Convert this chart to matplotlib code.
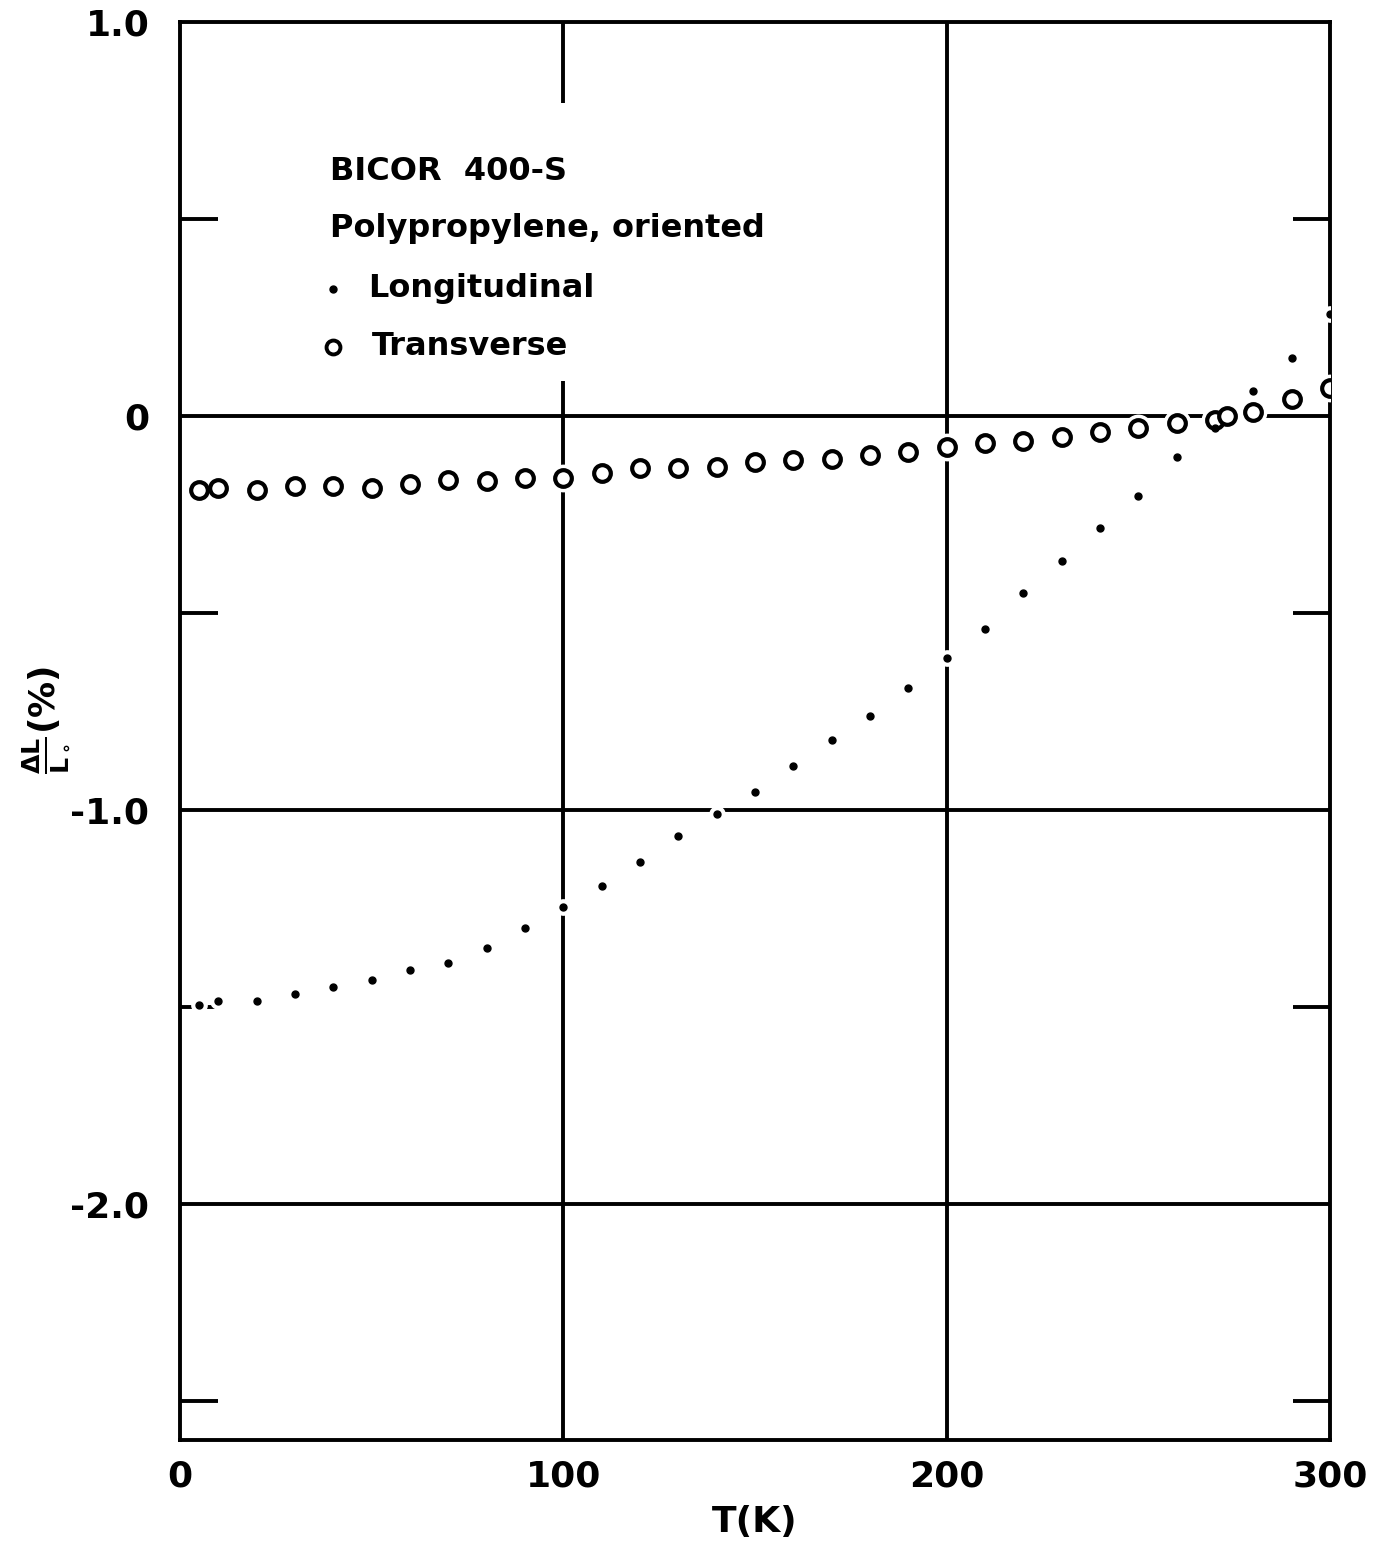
import numpy as np
import matplotlib
matplotlib.use("Agg")
import matplotlib.pyplot as plt
from matplotlib.ticker import FixedLocator

# Thermal expansion of oriented polypropylene film (BICOR 400-S)
temp_long = [5, 10, 20, 30, 40, 50, 60, 70, 80, 90, 100, 110, 120, 130, 140, 150,
             160, 170, 180, 190, 200, 210, 220, 230, 240, 250, 260, 270, 280, 290, 300]
dl_long = [-1.495, -1.486, -1.486, -1.467, -1.451, -1.431, -1.407, -1.388, -1.351,
           -1.299, -1.247, -1.194, -1.133, -1.066, -1.010, -0.954, -0.888, -0.822,
           -0.761, -0.690, -0.614, -0.540, -0.450, -0.368, -0.285, -0.203, -0.105,
           -0.031, 0.063, 0.148, 0.259]

temp_trans = [5, 10, 20, 30, 40, 50, 60, 70, 80, 90, 100, 110, 120, 130, 140, 150,
              160, 170, 180, 190, 200, 210, 220, 230, 240, 250, 260, 270, 273, 280, 290, 300]
dl_trans = [-0.188, -0.184, -0.188, -0.179, -0.179, -0.184, -0.173, -0.162, -0.165,
            -0.158, -0.157, -0.144, -0.133, -0.133, -0.129, -0.116, -0.112, -0.110,
            -0.099, -0.091, -0.078, -0.068, -0.063, -0.053, -0.040, -0.031, -0.019,
            -0.010, 0.0, 0.011, 0.042, 0.070]

x_ticks = [0, 100, 200, 300]
y_ticks = [1.0, 0.0, -1.0, -2.0]
y_ticklabels = ["1.0", "0", "-1.0", "-2.0"]
y_minor = [0.5, -0.5, -1.5, -2.5]

plt.rcParams["font.family"] = "DejaVu Sans"
plt.rcParams["font.weight"] = "bold"
plt.rcParams["axes.labelweight"] = "bold"

fig = plt.figure(figsize=(13.78, 15.49), dpi=100)
ax = fig.add_axes([0.1306, 0.0704, 0.8346, 0.9154])
ax.set_xlim(0, 300)
ax.set_ylim(-2.6, 1.0)

lw = 2.8
for s in ax.spines.values():
    s.set_linewidth(lw)

# grid lines
for y in [0.0, -1.0, -2.0]:
    ax.axhline(y, color="black", lw=lw, zorder=1)
ax.axvline(200, color="black", lw=lw, zorder=1)
# the 100 K line is broken around the caption block
ax.vlines(100, -2.6, 0.089, color="black", lw=lw, zorder=1)
ax.vlines(100, 0.794, 1.0, color="black", lw=lw, zorder=1)

ax.set_xticks(x_ticks)
ax.set_xticklabels([str(t) for t in x_ticks])
ax.set_yticks(y_ticks)
ax.set_yticklabels(y_ticklabels)
ax.yaxis.set_minor_locator(FixedLocator(y_minor))
ax.tick_params(axis="both", which="major", length=0, labelsize=26, width=lw)
ax.tick_params(axis="x", which="major", pad=14)
ax.tick_params(axis="y", which="major", pad=22)
ax.tick_params(axis="y", which="minor", direction="in", length=27, width=lw,
               left=True, right=True)

# white halos so the grid lines break around the points
ax.plot(temp_trans, dl_trans, "o", ms=19, color="white", zorder=3)
ax.plot(temp_long, dl_long, "o", ms=11, color="white", zorder=3)
ax.plot(temp_trans, dl_trans, "o", ms=12, mfc="white", mec="black", mew=3.0, zorder=4)
ax.plot(temp_long, dl_long, "o", ms=5, color="black", zorder=4)

# caption block
fs = 23
ax.text(0.1304, 0.8949, "BICOR  400-S", transform=ax.transAxes, fontsize=fs,
        va="center", ha="left")
ax.text(0.1304, 0.8547, "Polypropylene, oriented", transform=ax.transAxes,
        fontsize=fs, va="center", ha="left")
ax.plot([0.133], [0.8117], "o", ms=5, color="black", transform=ax.transAxes)
ax.text(0.1635, 0.8117, "Longitudinal", transform=ax.transAxes, fontsize=fs,
        va="center", ha="left")
ax.plot([0.133], [0.7708], "o", ms=10, mfc="white", mec="black", mew=2.8,
        transform=ax.transAxes)
ax.text(0.167, 0.7708, "Transverse", transform=ax.transAxes, fontsize=fs,
        va="center", ha="left")

ax.set_xlabel("T(K)", fontsize=26, labelpad=8)
fig.text(0.033, 0.535, r"$\mathbf{\frac{\Delta L}{L_\circ}}$(%)", rotation=90,
         fontsize=26, ha="center", va="center")

fig.savefig("out.png", dpi=100)
